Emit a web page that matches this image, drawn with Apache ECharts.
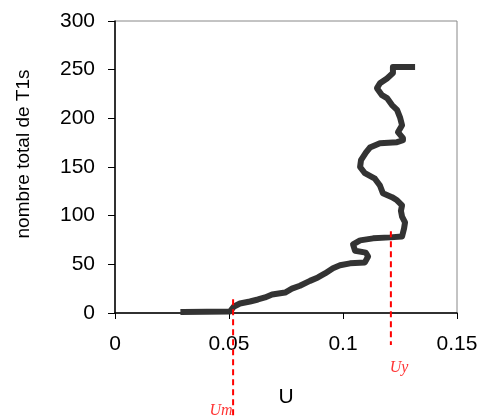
<!DOCTYPE html>
<html>
<head>
<meta charset="utf-8">
<script src="https://cdn.jsdelivr.net/npm/echarts@6/dist/echarts.min.js"></script>
<style>
  html, body { margin: 0; padding: 0; background: #fff; }
  #chart { width: 483px; height: 420px; }
</style>
</head>
<body>
<div id="chart"></div>
<script>
// courbe U / nombre total de T1s
const uValues = [
  0.030, 0.0504, 0.0522, 0.0548, 0.0592, 0.0627, 0.0658, 0.0689, 0.0746, 0.0776,
  0.0811, 0.0855, 0.089, 0.0921, 0.0956, 0.0987, 0.1031, 0.1096, 0.111, 0.110,
  0.1053, 0.1044, 0.1075, 0.1132, 0.1206, 0.1259, 0.1268, 0.1272, 0.1259, 0.1254,
  0.1259, 0.1237, 0.1215, 0.1175, 0.1162, 0.114, 0.1096, 0.1075, 0.1079, 0.1101,
  0.1118, 0.1162, 0.1237, 0.1263, 0.1263, 0.1241, 0.1259, 0.125, 0.1237, 0.1215,
  0.1193, 0.1171, 0.1149, 0.1162, 0.1193, 0.1219, 0.1219, 0.1303
];
const t1Counts = [
  1, 1.5, 6.7, 9.8, 11.8, 13.9, 16, 19, 21, 25,
  28, 33, 36.5, 40.6, 46, 49, 51, 52, 58, 62,
  64, 70.5, 74.6, 76.7, 77.7, 78.7, 87, 93, 99, 105,
  110.6, 115.8, 119, 123, 131, 138, 143.6, 150, 157, 165,
  170, 174.5, 175.5, 177.5, 179.6, 185.8, 193, 201, 208.7, 213.6,
  220.8, 223.8, 231, 236, 241, 246.5, 252.7, 252.7
];

// repères Um et Uy (lignes pointillées rouges)
const markerNames = ['Um', 'Uy'];
const markerU = [0.0518, 0.121];
const markerTop = [14, 84];
const markerBottom = [-105, -33];
const markerLabelU = [0.0465, 0.1246];
const markerLabelY = [-100, -56];

const xTicks = { min: 0, max: 0.15, interval: 0.05 };
const yTicks = { min: 0, max: 300, interval: 50 };

const myChart = echarts.init(document.getElementById('chart'));

const curveData = uValues.map((u, i) => [u, t1Counts[i]]);

const markerSeries = markerNames.map((name, i) => ({
  name: name,
  type: 'line',
  clip: false,
  symbol: 'none',
  silent: true,
  lineStyle: { color: '#ff0000', width: 2, type: [6, 4] },
  data: [[markerU[i], markerTop[i]], [markerU[i], markerBottom[i]]],
  z: 3,
}));

const option = {
  animation: false,
  backgroundColor: '#fff',
  textStyle: { fontFamily: 'Liberation Sans' },
  grid: {
    left: 115,
    right: 26,
    top: 21,
    bottom: 107,
    show: true,
    borderColor: '#888',
    borderWidth: 1,
  },
  xAxis: {
    type: 'value',
    min: xTicks.min,
    max: xTicks.max,
    interval: xTicks.interval,
    name: 'U',
    nameLocation: 'middle',
    nameGap: 74,
    nameTextStyle: { color: '#000', fontSize: 21 },
    axisLine: { onZero: false, lineStyle: { color: '#000', width: 1.5 } },
    axisTick: { show: true, length: 6, lineStyle: { color: '#000' } },
    axisLabel: { color: '#000', fontSize: 21, margin: 21 },
    splitLine: { show: false },
  },
  yAxis: {
    type: 'value',
    min: yTicks.min,
    max: yTicks.max,
    interval: yTicks.interval,
    name: 'nombre total de T1s',
    nameLocation: 'middle',
    nameGap: 82,
    nameTextStyle: { color: '#000', fontSize: 19, padding: [0, 0, 0, 26] },
    axisLine: { show: true, lineStyle: { color: '#000', width: 1.5 } },
    axisTick: { show: true, length: 7, lineStyle: { color: '#000' } },
    axisLabel: { color: '#000', fontSize: 21, margin: 20 },
    splitLine: { show: false },
  },
  series: [
    {
      name: 'T1s',
      type: 'line',
      symbol: 'none',
      lineStyle: { color: '#333', width: 6, cap: 'square', join: 'round' },
      data: curveData,
      z: 2,
    },
    ...markerSeries,
    {
      name: 'labels',
      type: 'scatter',
      clip: false,
      silent: true,
      symbolSize: 0,
      data: markerNames.map((name, i) => ({ name: name, value: [markerLabelU[i], markerLabelY[i]] })),
      label: {
        show: true,
        position: 'inside',
        formatter: '{b}',
        color: '#ff0000',
        fontFamily: 'Liberation Serif',
        fontStyle: 'italic',
        fontSize: 16,
      },
      z: 4,
    },
  ],
};

myChart.setOption(option);
</script>
</body>
</html>
